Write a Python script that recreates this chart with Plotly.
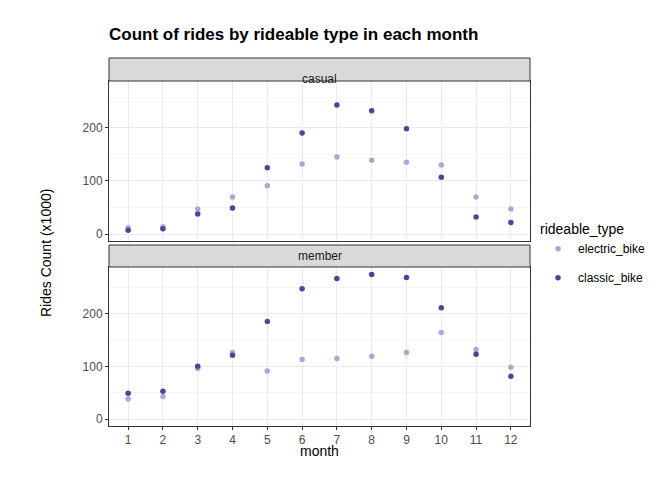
import plotly.graph_objects as go

months = list(range(1, 13))
casual_electric = [12, 14, 47, 70, 91, 132, 145, 139, 135, 130, 70, 47]
casual_classic = [7, 10, 38, 49, 125, 190, 243, 232, 198, 107, 32, 22]
member_electric = [38, 43, 96, 126, 91, 113, 115, 119, 126, 164, 132, 98]
member_classic = [49, 53, 100, 121, 185, 247, 266, 274, 268, 211, 123, 81]

c_el = "#b1a6d3"
c_cl = "#54409a"
W, H = 672, 480
fig = go.Figure()
for ax, el, cl, show in [("", casual_electric, casual_classic, True), ("2", member_electric, member_classic, False)]:
    fig.add_trace(go.Scatter(x=months, y=el, mode="markers", marker=dict(color=c_el, size=5.5),
                             name="electric_bike", showlegend=show, xaxis="x" + ax, yaxis="y" + ax, legendgroup="e"))
    fig.add_trace(go.Scatter(x=months, y=cl, mode="markers", marker=dict(color=c_cl, size=5.5),
                             name="classic_bike", showlegend=show, xaxis="x" + ax, yaxis="y" + ax, legendgroup="c"))

x0, x1 = 101 / W, 522 / W
def yd(top, bot):
    return [1 - bot / H, 1 - top / H]

base = dict(showline=True, linecolor="#333333", mirror=True, gridcolor="#ebebeb", zeroline=False,
            tickcolor="#333333", tickfont=dict(size=12, color="#4d4d4d"), automargin=False)
yminor = dict(tickvals=[50, 150, 250], showgrid=True, gridcolor="#f5f5f5", ticks="")
fig.update_layout(
    width=W, height=H, margin=dict(l=0, r=0, t=0, b=0, autoexpand=False),
    paper_bgcolor="white", plot_bgcolor="white",
    font=dict(family="Liberation Sans, Arial", color="black"),
    title=dict(text="<b>Count of rides by rideable type in each month</b>", x=101 / W, xanchor="left",
               y=1 - 26 / H, yanchor="middle", font=dict(size=17)),
    xaxis=dict(domain=[x0, x1], range=[0.45, 12.55], anchor="y", showticklabels=False, ticks="",
               tickvals=months, **base),
    xaxis2=dict(domain=[x0, x1], range=[0.45, 12.55], anchor="y2", tickvals=months,
                ticks="outside", ticklen=3, **base),
    yaxis=dict(domain=yd(73, 233), range=[-13, 288], tickvals=[0, 100, 200], anchor="x",
               ticks="outside", ticklen=3, minor=yminor, **base),
    yaxis2=dict(domain=yd(259, 418), range=[-13, 288], tickvals=[0, 100, 200], anchor="x2",
                ticks="outside", ticklen=3, minor=yminor, **base),
    legend=dict(x=530 / W, y=1 - 208 / H, xanchor="left", yanchor="top", font=dict(size=12),
                title=dict(text="rideable_type", font=dict(size=14)), itemsizing="trace"),
)
for top, bot, label in [(50, 73, "casual"), (237, 259, "member")]:
    fig.add_shape(type="rect", xref="paper", yref="paper", x0=x0, x1=x1, y0=1 - bot / H, y1=1 - top / H,
                  fillcolor="#d9d9d9", line=dict(color="#333333", width=1))
    fig.add_annotation(text=label, xref="paper", yref="paper", x=(x0 + x1) / 2, y=1 - (top + bot) / 2 / H,
                       showarrow=False, font=dict(size=12, color="#1a1a1a"))
fig.add_annotation(text="month", xref="paper", yref="paper", x=(x0 + x1) / 2, y=1 - 453 / H,
                   showarrow=False, font=dict(size=14))
fig.add_annotation(text="Rides Count (x1000)", xref="paper", yref="paper", x=28 / W, y=1 - 245 / H,
                   showarrow=False, textangle=-90, font=dict(size=14))
fig.write_html("out.html")
